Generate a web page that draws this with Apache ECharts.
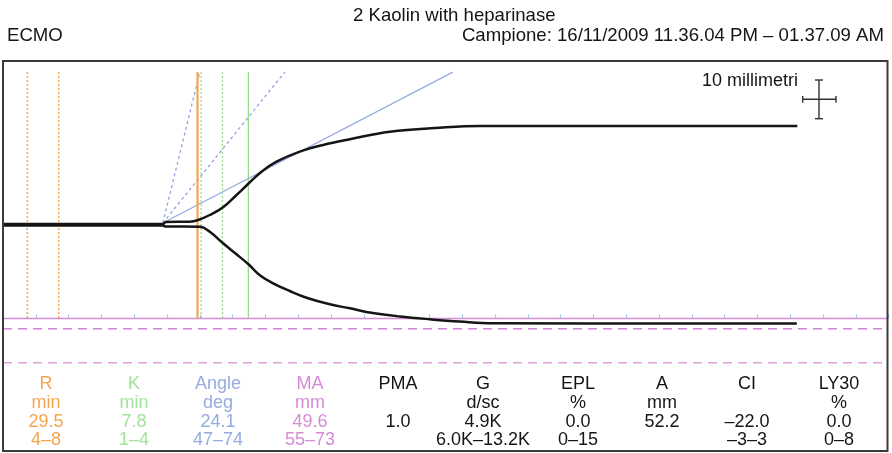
<!DOCTYPE html>
<html>
<head>
<meta charset="utf-8">
<script src="https://cdn.jsdelivr.net/npm/echarts@6/dist/echarts.min.js"></script>
<style>
html, body { margin: 0; padding: 0; background: #fff; }
#teg { width: 892px; height: 453px; }
</style>
</head>
<body>
<div id="teg"></div>
<script>
// x in minutes, y in mm from the centre line of the tracing
var upperTrace = [[0,0.2],[24.36,0.2],[24.82,0.74],[28.48,0.82],[29.74,1.27],[31.52,2.59],[33.55,4.63],[35.59,7.88],[37.36,10.79],[39.41,14.05],[41.69,16.69],[45.24,19.34],[48.8,21.11],[52.87,22.62],[58.96,24.63],[66.59,25.69],[72.68,26.14],[121.08,26.14]];
var lowerTrace = [[0,-0.2],[24.36,-0.2],[24.82,-0.45],[30.0,-0.5],[31.52,-1.83],[33.55,-4.89],[35.59,-7.8],[37.42,-10.45],[39.15,-13.35],[41.17,-15.48],[43.72,-17.51],[46.27,-19.29],[49.82,-21.03],[52.87,-22.09],[56.37,-23.33],[60.49,-24.25],[65.06,-24.99],[69.63,-25.6],[74.66,-26.05],[121.0,-26.11]];

var rRange = [3.7, 8.5];
var rMark = [29.65];
var kRange = [30.2, 33.45];
var kMark = [37.4];
var angleApex = [24.36, 0.48];
var angleRangeTips = [[30.0, 40.4], [42.96, 40.4]];
var angleTips = [[68.57, 40.4]];
var maValue = 49.6;
var maRange = [55, 73];
var markTop = 40.4;
var xMax = 134.9;

var colNames  = ['R', 'K', 'Angle', 'MA', 'PMA', 'G', 'EPL', 'A', 'CI', 'LY30'];
var colUnits  = ['min', 'min', 'deg', 'mm', '', 'd/sc', '%', 'mm', '', '%'];
var colValues = ['29.5', '7.8', '24.1', '49.6', '1.0', '4.9K', '0.0', '52.2', '\u201322.0', '0.0'];
var colRanges = ['4\u20138', '1\u20134', '47\u201374', '55\u201373', '', '6.0K\u201313.2K', '0\u201315', '', '\u20133\u20133', '0\u20138'];

var ORANGE = '#f5a54e', GREEN = '#94db8c', BLUE = '#97abe0', PINK = '#d58bd6', INK = '#151515';
var colColors = [ORANGE, '#a3e29b', BLUE, PINK, INK, INK, INK, INK, INK, INK];
var colX = [46, 134, 218, 310, 398, 483, 578, 662, 747, 839];
var rowY = [384, 403, 422, 440];
var FONT = '"Liberation Sans", Arial, Helvetica, sans-serif';

function seg(data, style, z) {
    return { type: 'line', data: data, showSymbol: false, silent: true, z: z || 1,
             lineStyle: style, animation: false };
}
function vLines(xs, style) {
    return xs.map(function (x) { return seg([[x, markTop], [x, -maValue / 2]], style, 1); });
}
function rays(tips, style) {
    return tips.map(function (t) { return seg([angleApex, t], style, 1); });
}
function hLine(y, style) { return seg([[0, y], [xMax, y]], style, 1); }

var series = []
    .concat(vLines(rRange, { color: ORANGE, width: 1.5, type: [2, 2] }))
    .concat(vLines(kRange, { color: GREEN, width: 1.3, type: [2, 2] }))
    .concat(vLines(kMark,  { color: GREEN, width: 1.3 }))
    .concat(rays(angleRangeTips, { color: '#8ea3dc', width: 1.3, type: [3, 3] }))
    .concat(rays(angleTips, { color: BLUE, width: 1.3 }))
    .concat([
        hLine(-maValue / 2, { color: PINK, width: 1.5 }),
        hLine(-maRange[0] / 2, { color: '#d683da', width: 1.5, type: [9, 6] }),
        hLine(-maRange[1] / 2, { color: '#dba3dc', width: 1.5, type: [9, 6] })
    ])
    .concat(vLines(rMark, { color: ORANGE, width: 2.2 }))
    .concat([
        { type: 'line', data: upperTrace, smooth: 0.4, showSymbol: false,
          z: 3, lineStyle: { color: INK, width: 2.5 }, animation: false },
        { type: 'line', data: lowerTrace, smooth: 0.4, showSymbol: false,
          z: 3, lineStyle: { color: INK, width: 2.5 }, animation: false }
    ]);

var graphics = [
    { type: 'rect', shape: { x: 3, y: 61, width: 884.5, height: 390 },
      style: { fill: 'none', stroke: '#3a3a3a', lineWidth: 2 }, z: 10 },
    { type: 'text', style: { text: '2 Kaolin with heparinase', x: 353, y: 16, font: '18.6px ' + FONT,
      fill: INK, align: 'left', verticalAlign: 'middle' } },
    { type: 'text', style: { text: 'Campione: 16/11/2009 11.36.04 PM \u2013 01.37.09 AM', x: 884, y: 36,
      font: '18.6px ' + FONT, fill: INK, align: 'right', verticalAlign: 'middle' } },
    { type: 'text', style: { text: 'ECMO', x: 7, y: 36, font: '18.6px ' + FONT, fill: INK,
      align: 'left', verticalAlign: 'middle' } },
    { type: 'text', style: { text: '10 millimetri', x: 798, y: 81, font: '18px ' + FONT, fill: INK,
      align: 'right', verticalAlign: 'middle' } }
];

// scale cross, 10 mm each way
[[819, 80, 819, 118.7], [815, 80, 823, 80], [815, 118.7, 823, 118.7],
 [802.7, 99.3, 836, 99.3], [802.7, 96, 802.7, 102.7], [836, 96, 836, 102.7]].forEach(function (l) {
    graphics.push({ type: 'line', shape: { x1: l[0], y1: l[1], x2: l[2], y2: l[3] },
                    style: { stroke: '#333', lineWidth: 1.4 } });
});

// results table
[colNames, colUnits, colValues, colRanges].forEach(function (row, r) {
    row.forEach(function (txt, c) {
        if (!txt) return;
        graphics.push({ type: 'text', style: { text: txt, x: colX[c], y: rowY[r], font: '18px ' + FONT,
            fill: colColors[c], align: 'center', verticalAlign: 'middle' } });
    });
});

var chart = echarts.init(document.getElementById('teg'));
chart.setOption({
    backgroundColor: '#fff',
    animation: false,
    grid: [
        { left: 3, right: 4, top: 61, bottom: 83 },
        { left: 3, right: 4, top: 314, height: 4.5 }
    ],
    xAxis: [
        { type: 'value', gridIndex: 0, min: 0, max: xMax, show: false },
        { type: 'value', gridIndex: 1, min: 0, max: xMax, interval: 5,
          axisLine: { show: false }, axisLabel: { show: false }, splitLine: { show: false },
          axisTick: { show: true, inside: true, length: 4, lineStyle: { color: '#9fcbe6', width: 1.2 } } }
    ],
    yAxis: [
        { type: 'value', gridIndex: 0, min: -38.41, max: 43.33, show: false },
        { type: 'value', gridIndex: 1, min: 0, max: 1, show: false }
    ],
    series: series,
    graphic: graphics
});
window.addEventListener('resize', function () { chart.resize(); });
</script>
</body>
</html>
